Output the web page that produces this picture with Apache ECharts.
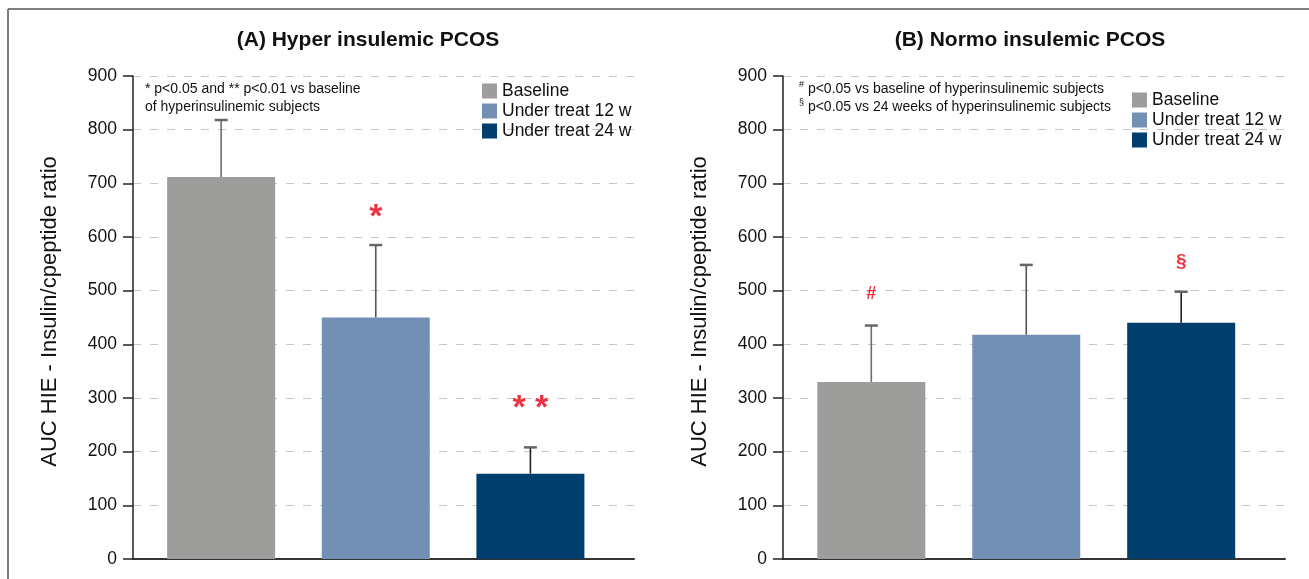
<!DOCTYPE html>
<html>
<head>
<meta charset="utf-8">
<script src="https://cdn.jsdelivr.net/npm/echarts@6/dist/echarts.min.js"></script>
<style>
  html, body { margin: 0; padding: 0; background: #fff; }
  #chart { width: 1309px; height: 579px; }
</style>
</head>
<body>
<div id="chart"></div>
<script>
// ---- data ----
const categories = ['Baseline', 'Under treat 12 w', 'Under treat 24 w'];
const hyperMeans = [712, 450, 159];
const hyperUpper = [818, 585, 208];
const normoMeans = [330, 418, 440];
const normoUpper = [435, 548, 498];
const yTicks = [0, 100, 200, 300, 400, 500, 600, 700, 800, 900];
const hyperMarkers = ['', '*', '* *'];
const hyperMarkerY = [null, 636, 281];
const normoMarkers = ['#', '', '§'];
const normoMarkerY = [493, null, 553];

// ---- styles ----
const barColors = ['#9d9d9c', '#7290b4', '#003f6d'];
const errColors = ['#6e6e6e', '#555555', '#222222'];
const FONT = "'Liberation Sans', Arial, Helvetica, sans-serif";

const chart = echarts.init(document.getElementById('chart'));

function xAxisCfg(idx) {
  return {
    type: 'value', gridIndex: idx, min: 0.43, max: 3.67,
    axisLine: { show: true, onZero: false, lineStyle: { color: '#333', width: 2 } },
    axisTick: { show: false }, axisLabel: { show: false }, splitLine: { show: false }
  };
}
function yAxisCfg(idx) {
  return {
    type: 'value', gridIndex: idx, min: yTicks[0], max: yTicks[yTicks.length - 1],
    interval: yTicks[1] - yTicks[0],
    name: 'AUC HIE - Insulin/cpeptide ratio', nameLocation: 'middle', nameGap: 72,
    nameTextStyle: { fontFamily: FONT, fontSize: 22, color: '#111', padding: [0, 0, 0, 12] },
    axisLine: { show: true, lineStyle: { color: '#222', width: 1.5 } },
    axisTick: { show: true, length: 10, lineStyle: { color: '#222', width: 1.5 } },
    axisLabel: { fontFamily: FONT, fontSize: 17.5, color: '#111', margin: 16 },
    splitLine: { show: true, lineStyle: { color: '#c6c6c6', width: 1.2, type: [8, 9] } }
  };
}

function barSeries(means, gridIdx) {
  return categories.map((name, i) => ({
    name: name, type: 'bar', xAxisIndex: gridIdx, yAxisIndex: gridIdx,
    barWidth: 108, barGap: '-100%',
    itemStyle: { color: barColors[i] },
    data: [[i + 1, means[i]]], z: 2
  }));
}
function errSeries(means, upper, gridIdx) {
  return {
    type: 'custom', xAxisIndex: gridIdx, yAxisIndex: gridIdx, z: 3,
    data: means.map((m, i) => [i + 1, upper[i], m]),
    renderItem: function (params, api) {
      const i = params.dataIndex;
      const p1 = api.coord([api.value(0), api.value(2)]);
      const p2 = api.coord([api.value(0), api.value(1)]);
      return {
        type: 'group', children: [
          { type: 'line', shape: { x1: p1[0], y1: p1[1], x2: p2[0], y2: p2[1] },
            style: { stroke: errColors[i], lineWidth: 1.6 } },
          { type: 'line', shape: { x1: p2[0] - 6.5, y1: p2[1], x2: p2[0] + 6.5, y2: p2[1] },
            style: { stroke: '#666', lineWidth: 2.5 } }
        ]
      };
    }
  };
}
function markerSeries(texts, ys, gridIdx, sizes) {
  const data = [];
  texts.forEach((t, i) => { if (t) data.push({ value: [i + 1, ys[i]], txt: t, fs: sizes[i] }); });
  return {
    type: 'scatter', xAxisIndex: gridIdx, yAxisIndex: gridIdx, symbolSize: 0, z: 4,
    silent: true,
    data: data.map(d => ({
      value: d.value,
      label: { show: true, position: 'inside', formatter: d.txt, color: '#e60012',
        fontFamily: FONT, fontWeight: 'bold', fontSize: d.fs }
    }))
  };
}

const legendText = { fontFamily: FONT, fontSize: 17.5, color: '#111' };

const option = {
  animation: false,
  backgroundColor: '#fff',
  title: [
    { text: '(A) Hyper insulemic PCOS', left: 363, top: 25, textAlign: 'center',
      textStyle: { fontFamily: FONT, fontWeight: 'bold', fontSize: 21, color: '#111' } },
    { text: '(B) Normo insulemic PCOS', left: 1025, top: 25, textAlign: 'center',
      textStyle: { fontFamily: FONT, fontWeight: 'bold', fontSize: 21, color: '#111' } }
  ],
  legend: [
    { orient: 'vertical', left: 482, top: 82, itemWidth: 15, itemHeight: 15, itemGap: 2,
      icon: 'rect', data: categories, selectedMode: false, padding: 0, textStyle: legendText },
    { orient: 'vertical', left: 1132, top: 91, itemWidth: 15, itemHeight: 15, itemGap: 2,
      icon: 'rect', data: categories, selectedMode: false, padding: 0, textStyle: legendText }
  ],
  grid: [
    { left: 133, top: 76, width: 501, height: 483 },
    { left: 783, top: 76, width: 502, height: 483 }
  ],
  xAxis: [xAxisCfg(0), xAxisCfg(1)],
  yAxis: [yAxisCfg(0), yAxisCfg(1)],
  graphic: [
    { type: 'line', shape: { x1: 8, y1: 9, x2: 1309, y2: 9 }, style: { stroke: '#555', lineWidth: 1.5 } },
    { type: 'line', shape: { x1: 8, y1: 9, x2: 8, y2: 579 }, style: { stroke: '#555', lineWidth: 1.5 } },
    { type: 'text', left: 145, top: 80,
      style: { text: '* p<0.05 and ** p<0.01 vs baseline\nof hyperinsulinemic subjects',
        font: '14px ' + FONT, fill: '#111', lineHeight: 18 } },
    { type: 'text', left: 799, top: 80,
      style: { text: '{s|#} p<0.05 vs baseline of hyperinsulinemic subjects\n{s|§} p<0.05 vs 24 weeks of hyperinsulinemic subjects',
        font: '14px ' + FONT, fill: '#111', lineHeight: 18,
        rich: { s: { fontSize: 9, verticalAlign: 'top', lineHeight: 18, fontFamily: FONT, fill: '#111' } } } }
  ],
  series: [
    ...barSeries(hyperMeans, 0),
    errSeries(hyperMeans, hyperUpper, 0),
    markerSeries(hyperMarkers, hyperMarkerY, 0, [34, 34, 34]),
    ...barSeries(normoMeans, 1),
    errSeries(normoMeans, normoUpper, 1),
    markerSeries(normoMarkers, normoMarkerY, 1, [18, 18, 19])
  ]
};
chart.setOption(option);
</script>
</body>
</html>
